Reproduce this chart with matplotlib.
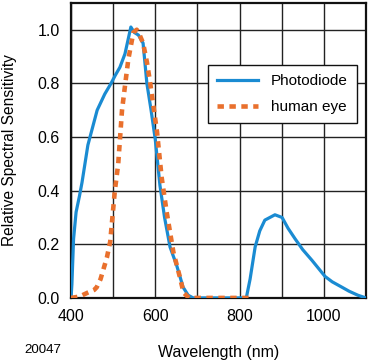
import numpy as np
import matplotlib.pyplot as plt

plt.rcParams['font.family'] = ['Liberation Sans', 'DejaVu Sans']

# photodiode relative spectral sensitivity
pd_wl = [400, 402, 406, 412, 420, 426, 440, 462, 480, 495, 505, 516, 528, 535, 542,
         550, 560, 571, 580, 590, 600, 611, 622, 635, 651, 666, 678, 690,
         800, 816, 825, 837, 848, 860, 872, 884, 901, 915, 932, 950, 972,
         1003, 1020, 1043, 1060, 1081, 1100]
pd_val = [0.0, 0.05, 0.22, 0.32, 0.38, 0.43, 0.57, 0.70, 0.76, 0.80, 0.83, 0.86, 0.91, 0.96, 1.01,
          0.99, 0.98, 0.95, 0.80, 0.70, 0.59, 0.42, 0.30, 0.19, 0.12, 0.04, 0.01, 0.0,
          0.0, 0.0, 0.07, 0.19, 0.25, 0.29, 0.30, 0.31, 0.30, 0.26, 0.22, 0.18, 0.14,
          0.08, 0.06, 0.04, 0.025, 0.01, 0.0]

# human eye sensitivity
eye_wl = [400, 420, 440, 455, 461, 470, 485, 493, 504, 512, 521, 528, 536, 548, 556,
          563, 571, 580, 588, 596, 604, 615, 627, 643, 658, 667, 680, 830]
eye_val = [0.0, 0.005, 0.02, 0.03, 0.04, 0.07, 0.15, 0.21, 0.40, 0.50, 0.70, 0.79, 0.89, 0.99, 1.0,
           0.98, 0.95, 0.88, 0.80, 0.71, 0.62, 0.45, 0.32, 0.17, 0.08, 0.02, 0.0, 0.0]

blue = '#1a8bd2'
orange = '#e9702d'

fig = plt.figure(figsize=(3.7, 3.62), dpi=100)
ax = fig.add_axes([0.192, 0.177, 0.797, 0.815])

ax.plot(pd_wl, pd_val, color=blue, lw=2.3, label='Photodiode', zorder=3)
ax.plot(eye_wl, eye_val, color=orange, lw=3.3, ls=(0, (1.4, 1.2)), label='human eye', zorder=4)

ax.set_xlim(400, 1100)
ax.set_ylim(0, 1.1)
ax.set_xticks(np.arange(400, 1101, 100), minor=True)
ax.set_xticks([400, 600, 800, 1000])
ax.set_yticks([0.0, 0.2, 0.4, 0.6, 0.8, 1.0])
ax.set_yticklabels(['0.0', '0.2', '0.4', '0.6', '0.8', '1.0'])
ax.grid(True, which='both', color='#222222', lw=1.0)
ax.tick_params(which='both', length=0, labelsize=11.5, pad=8)
for s in ax.spines.values():
    s.set_linewidth(1.6)
    s.set_color('#111111')

ax.set_xlabel('Wavelength (nm)', fontsize=11.5)
ax.xaxis.set_label_coords(0.5, -0.158)
ax.set_ylabel('Relative Spectral Sensitivity', fontsize=11.2)
ax.yaxis.set_label_coords(-0.183, 0.5)

leg = ax.legend(loc='upper left', bbox_to_anchor=(0.464, 0.79), fontsize=11,
                fancybox=False, framealpha=1, edgecolor='#111111', borderaxespad=0,
                handlelength=2.7, handletextpad=0.8, borderpad=0.6, labelspacing=0.8)
leg.get_frame().set_linewidth(1.0)

fig.text(0.065, 0.025, '20047', fontsize=9.6)

fig.savefig('out.png', dpi=100)
